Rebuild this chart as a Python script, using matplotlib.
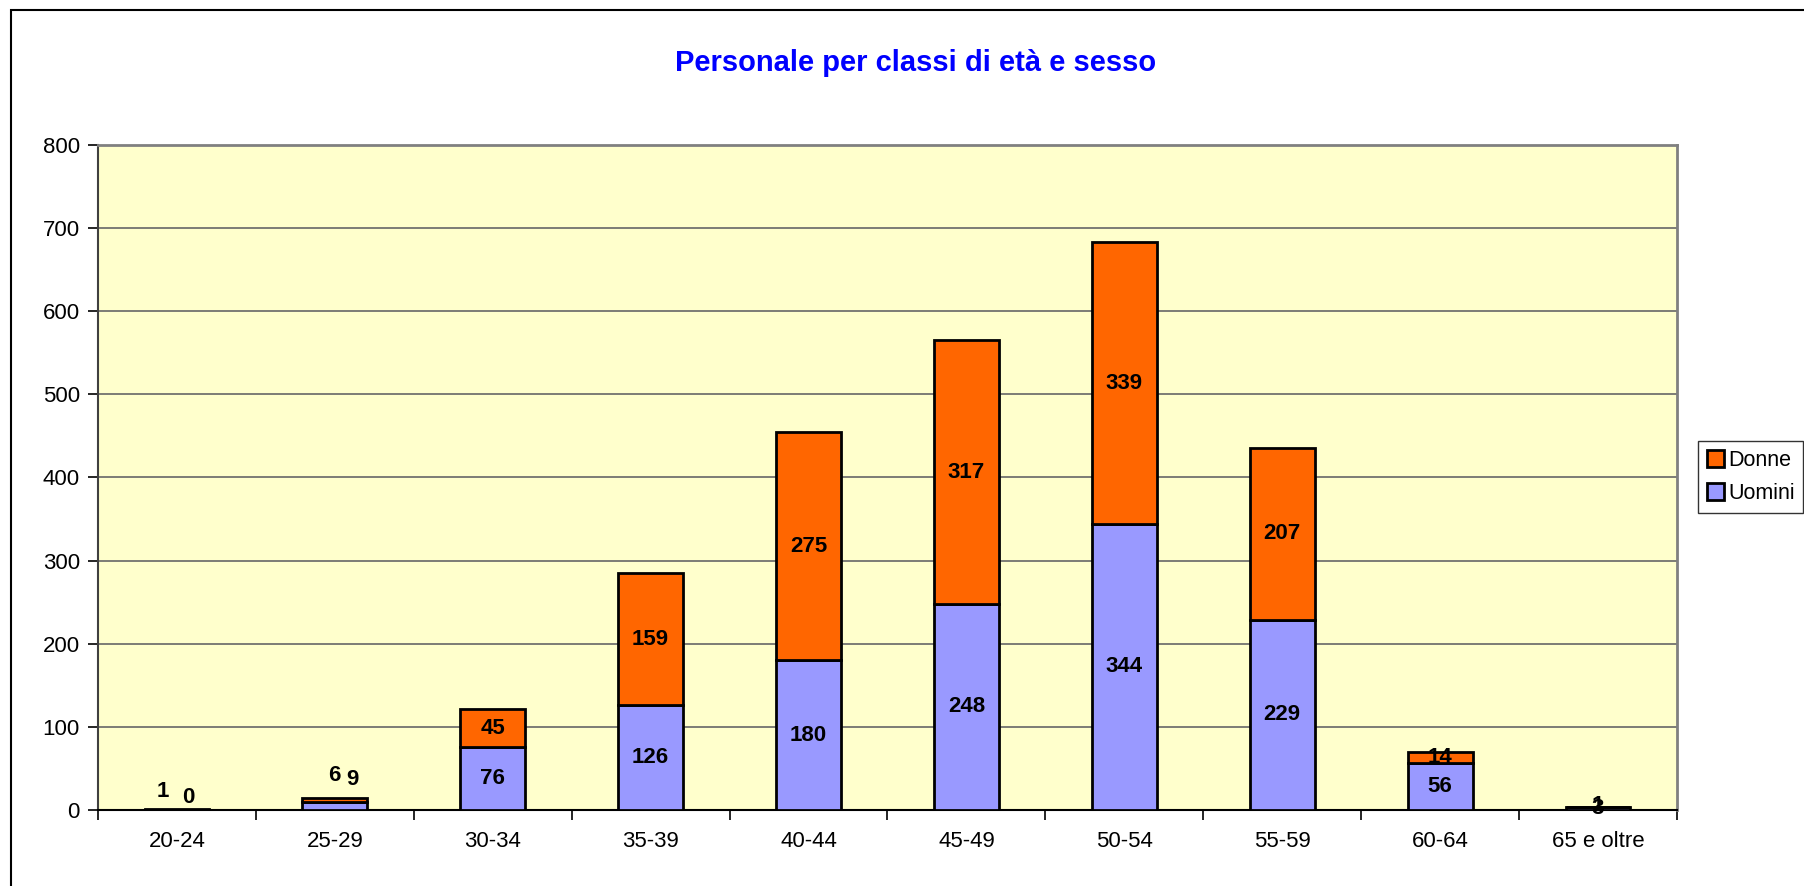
import matplotlib.pyplot as plt
import numpy as np
from matplotlib.patches import Rectangle

plt.rcParams['font.family'] = ['Liberation Sans', 'DejaVu Sans']

classi = ['20-24', '25-29', '30-34', '35-39', '40-44', '45-49', '50-54', '55-59', '60-64', '65 e oltre']
uomini = [0, 9, 76, 126, 180, 248, 344, 229, 56, 3]
donne = [1, 6, 45, 159, 275, 317, 339, 207, 14, 1]

# nudges (pixels) for the overlapping labels on the tiny bars
nudge_u = {0: (11, 12), 1: (18, 27)}
nudge_d = {0: (-14, 18), 1: (-1, 25), 9: (0, 2)}

fig = plt.figure(figsize=(18.04, 8.86), dpi=100)
ax = fig.add_axes([0.0543, 0.0858, 0.8753, 0.7506])
ax.set_facecolor('#FFFFCC')

x = np.arange(len(classi))
w = 0.41
bu = ax.bar(x, uomini, w, color='#9999FF', edgecolor='black', linewidth=2, label='Uomini', zorder=3)
bd = ax.bar(x, donne, w, bottom=uomini, color='#FF6600', edgecolor='black', linewidth=2, label='Donne', zorder=3)

for i in range(len(classi)):
    dx, dy = nudge_u.get(i, (0, 0))
    ax.annotate(str(uomini[i]), (x[i], uomini[i] / 2), xytext=(dx, dy), textcoords='offset pixels',
                ha='center', va='center', fontsize=16, fontweight='bold', zorder=5)
    dx, dy = nudge_d.get(i, (0, 0))
    ax.annotate(str(donne[i]), (x[i], uomini[i] + donne[i] / 2), xytext=(dx, dy), textcoords='offset pixels',
                ha='center', va='center', fontsize=16, fontweight='bold', zorder=5)

ax.set_ylim(0, 800)
ax.set_xlim(-0.5, len(classi) - 0.5)
ax.set_yticks(range(0, 801, 100))
ax.yaxis.grid(True, color='#666666', linewidth=1.2, zorder=1)
ax.set_axisbelow(True)
ax.set_xticks(x)
ax.set_xticklabels(classi)
ax.set_xticks(np.arange(-0.5, len(classi), 1), minor=True)
ax.tick_params(axis='x', which='major', length=0, pad=15, labelsize=16)
ax.tick_params(axis='x', which='minor', length=7, width=1.2, direction='out')
ax.tick_params(axis='y', length=7, width=1.2, direction='out', labelsize=16, pad=6)

ax.spines['top'].set_color('#808080')
ax.spines['right'].set_color('#808080')
ax.spines['top'].set_linewidth(2)
ax.spines['right'].set_linewidth(2)
ax.spines['left'].set_color('#404040')
ax.spines['bottom'].set_color('black')
ax.spines['left'].set_linewidth(1.5)
ax.spines['bottom'].set_linewidth(1.5)

fig.text(0.5075, 0.929, 'Personale per classi di età e sesso', color='#0000FF', fontsize=21,
         fontweight='bold', ha='center', va='center')

handles = [bd, bu]
leg = fig.legend(handles, ['Donne', 'Uomini'], loc='center left', bbox_to_anchor=(0.9412, 0.4616),
                 fontsize=15.5, frameon=True, fancybox=False, edgecolor='black', handlelength=0.8,
                 handleheight=0.8, handletextpad=0.2, borderpad=0.4, labelspacing=0.55, borderaxespad=0)
leg.get_frame().set_linewidth(1)

fig.patches.append(Rectangle((11 / 1804, -1), 2, 2 - 10 / 886, transform=fig.transFigure,
                             fill=False, edgecolor='black', linewidth=1.5))

fig.savefig('out.png', dpi=100)
